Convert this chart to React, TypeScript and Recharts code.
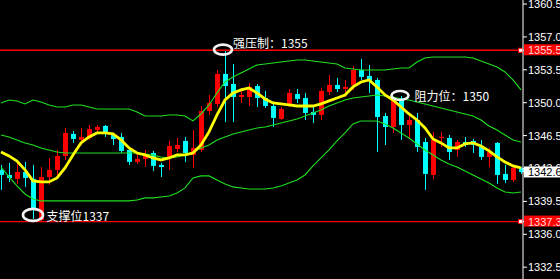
import React from 'react';
import { ComposedChart, Bar, Line, XAxis, YAxis, ReferenceLine, ReferenceDot } from 'recharts';

const opens = [
  1342.85, 1342.31, 1341.89, 1342.63, 1341.89, 1337.53, 1342.10, 1342.85, 1344.33, 1346.68,
  1346.04, 1346.25, 1347.10, 1347.53, 1346.57, 1346.36, 1344.97, 1343.70, 1344.02, 1344.65,
  1343.38, 1344.12, 1345.08, 1345.93, 1344.44, 1344.97, 1349.12, 1349.87, 1353.06, 1351.99,
  1350.61, 1350.61, 1351.78, 1350.50, 1349.65, 1348.27, 1349.87, 1350.93, 1350.50, 1349.02,
  1348.70, 1351.14, 1351.89, 1351.46, 1351.89, 1353.48, 1352.85, 1352.42, 1348.59, 1347.42,
  1350.50, 1347.63, 1348.16, 1345.82, 1342.31, 1346.25, 1346.25, 1344.97, 1345.82, 1345.93,
  1345.40, 1344.23, 1345.72, 1342.42, 1341.78, 1343.06,
];
const highs = [
  1343.38, 1343.59, 1343.59, 1343.70, 1343.38, 1343.16, 1344.12, 1344.97, 1347.31, 1346.99,
  1347.31, 1347.63, 1347.63, 1347.63, 1346.78, 1346.78, 1345.29, 1344.65, 1344.97, 1344.87,
  1343.59, 1345.93, 1346.25, 1346.36, 1347.10, 1349.65, 1350.82, 1353.48, 1355.55, 1354.12,
  1351.57, 1352.10, 1351.99, 1351.25, 1349.97, 1349.55, 1351.46, 1351.46, 1351.04, 1349.55,
  1351.57, 1352.95, 1352.63, 1352.42, 1353.91, 1354.65, 1354.02, 1352.63, 1348.91, 1350.61,
  1350.72, 1348.91, 1348.91, 1346.25, 1346.89, 1346.89, 1346.57, 1346.04, 1346.36, 1346.14,
  1346.04, 1345.19, 1345.82, 1343.38, 1343.38, 1343.16,
];
const lows = [
  1340.72, 1341.57, 1341.36, 1341.04, 1337.63, 1337.31, 1341.25, 1342.31, 1343.91, 1345.72,
  1345.50, 1346.04, 1346.89, 1346.36, 1345.50, 1344.65, 1343.38, 1343.48, 1343.16, 1342.74,
  1342.10, 1342.85, 1344.76, 1343.70, 1343.06, 1344.76, 1348.70, 1349.55, 1347.95, 1347.95,
  1349.97, 1349.65, 1349.55, 1349.44, 1347.42, 1348.16, 1349.55, 1349.97, 1348.16, 1347.85,
  1348.16, 1350.82, 1351.14, 1350.61, 1351.36, 1352.42, 1351.04, 1344.76, 1345.50, 1346.78,
  1346.04, 1346.25, 1344.76, 1340.72, 1341.89, 1345.29, 1343.91, 1344.23, 1345.29, 1344.65,
  1343.91, 1343.16, 1341.36, 1341.46, 1341.57, 1342.42,
];
const closes = [
  1342.31, 1341.99, 1342.63, 1341.99, 1338.70, 1342.10, 1342.85, 1344.33, 1346.78, 1346.14,
  1346.36, 1347.21, 1347.42, 1346.68, 1346.14, 1344.87, 1343.70, 1344.02, 1344.55, 1343.27,
  1343.16, 1345.40, 1345.50, 1344.65, 1345.19, 1349.12, 1349.97, 1353.06, 1351.78, 1350.61,
  1350.82, 1351.68, 1350.50, 1349.65, 1348.38, 1349.33, 1351.04, 1350.40, 1348.91, 1348.70,
  1351.25, 1351.89, 1351.46, 1351.68, 1353.48, 1352.74, 1352.31, 1348.48, 1347.42, 1350.50,
  1347.63, 1348.16, 1345.29, 1342.42, 1346.04, 1346.36, 1344.76, 1345.82, 1345.50, 1345.50,
  1344.23, 1344.76, 1342.31, 1341.78, 1343.06, 1342.63,
];
const movingAverage = [
  1344.76, 1344.34, 1343.80, 1342.85, 1341.68, 1341.57, 1341.57, 1341.99, 1343.06, 1344.44,
  1345.72, 1346.36, 1346.78, 1346.78, 1346.68, 1346.04, 1345.19, 1344.65, 1344.44, 1344.12,
  1343.91, 1344.12, 1344.44, 1344.44, 1344.65, 1345.50, 1346.89, 1348.70, 1350.29, 1351.04,
  1351.36, 1351.57, 1351.04, 1350.40, 1349.97, 1349.87, 1349.76, 1349.65, 1349.65, 1349.65,
  1349.87, 1350.19, 1350.50, 1350.82, 1351.68, 1352.21, 1352.42, 1351.68, 1350.82, 1350.29,
  1349.55, 1348.80, 1348.16, 1347.31, 1346.14, 1345.72, 1345.19, 1345.19, 1345.61, 1345.72,
  1345.40, 1344.87, 1344.23, 1343.70, 1343.27, 1343.06,
];
const bollUpper = [
  1349.97, 1350.29, 1350.19, 1349.87, 1350.29, 1350.08, 1349.76, 1349.55, 1349.55, 1349.76,
  1349.76, 1349.55, 1349.33, 1349.33, 1349.33, 1349.33, 1349.33, 1349.02, 1348.59, 1348.59,
  1348.59, 1348.70, 1348.70, 1348.59, 1348.06, 1348.80, 1349.76, 1351.04, 1352.21, 1352.74,
  1353.17, 1353.59, 1354.02, 1354.12, 1354.23, 1354.33, 1354.44, 1354.55, 1354.55, 1354.44,
  1354.33, 1354.23, 1354.12, 1353.70, 1353.59, 1353.48, 1353.48, 1353.48, 1353.48, 1353.59,
  1353.70, 1353.70, 1354.33, 1354.76, 1354.87, 1354.87, 1354.87, 1354.87, 1354.87, 1354.76,
  1354.44, 1354.12, 1353.80, 1353.27, 1352.42, 1351.36,
];
const bollMiddle = [
  1346.57, 1346.36, 1346.04, 1345.72, 1345.50, 1345.19, 1344.97, 1344.76, 1344.65, 1344.65,
  1344.65, 1344.65, 1344.65, 1344.65, 1344.65, 1344.65, 1344.65, 1344.65, 1344.55, 1344.44,
  1344.23, 1344.12, 1344.23, 1344.44, 1344.76, 1345.19, 1345.50, 1346.04, 1346.36, 1346.68,
  1346.89, 1347.10, 1347.31, 1347.42, 1347.63, 1347.85, 1348.06, 1348.27, 1348.59, 1348.91,
  1349.23, 1349.65, 1349.97, 1350.29, 1350.50, 1350.61, 1350.72, 1350.82, 1350.72, 1350.61,
  1350.40, 1350.29, 1350.08, 1349.87, 1349.65, 1349.44, 1349.23, 1349.02, 1348.80, 1348.59,
  1348.16, 1347.53, 1347.10, 1346.57, 1346.04, 1345.82,
];
const bollLower = [
  1343.16, 1342.10, 1341.14, 1340.29, 1339.76, 1339.55, 1339.55, 1339.55, 1339.55, 1339.55,
  1339.55, 1339.55, 1339.55, 1339.55, 1339.55, 1339.55, 1339.55, 1339.65, 1339.87, 1339.87,
  1339.97, 1340.08, 1340.40, 1340.93, 1341.99, 1342.21, 1342.21, 1341.78, 1341.36, 1341.04,
  1340.93, 1340.82, 1340.82, 1340.82, 1340.93, 1341.14, 1341.46, 1341.78, 1342.31, 1343.27,
  1344.12, 1344.97, 1345.93, 1346.78, 1347.74, 1348.06, 1348.06, 1348.06, 1347.74, 1347.31,
  1346.78, 1346.25, 1345.61, 1344.97, 1344.44, 1343.91, 1343.48, 1343.16, 1342.74, 1342.31,
  1341.89, 1341.46, 1340.93, 1340.50, 1340.40, 1340.50,
];

const yTicks = [1360.5, 1357.0, 1353.5, 1350.0, 1346.5, 1343.0, 1339.5, 1336.0, 1332.5];
const yDomain = [1331.24, 1360.93];
const resistanceLevel = 1355.58;
const supportLevel = 1337.35;
const lastPrice = 1342.63;

const annotationIndex = [28, 50, 4];
const annotationPrice = [1355.65, 1350.77, 1338.06];
const annotationText = ['强压制：1355', '阻力位：1350', '支撑位1337'];

// styling only (pixel offsets of ellipse / label relative to the anchored point)
const annotationStyle = [
  { ex: -2, rx: 9, ry: 5, tx: 8, ty: -7 },
  { ex: -1, rx: 8.5, ry: 4.5, tx: 13.5, ty: 0 },
  { ex: 0, rx: 10, ry: 6, tx: 13.5, ty: 1 },
];

const data = opens.map((o, i) => ({
  i,
  o,
  h: highs[i],
  l: lows[i],
  c: closes[i],
  hl: [lows[i], highs[i]],
  ma: movingAverage[i],
  up: bollUpper[i],
  mid: bollMiddle[i],
  low: bollLower[i],
}));

const UP = '#ff0000';
const DOWN = '#00ffff';
const GREEN = '#1ee01e';

const Candle = (props: any) => {
  const { x, y, width, height, payload } = props;
  if (x == null || y == null || !payload) return null;
  const { o, h, l, c } = payload;
  const top = Math.min(y, y + height);
  const span = Math.abs(height);
  const k = h - l > 0 ? span / (h - l) : 0;
  const cx = Math.floor(x + width / 2) + 0.5;
  const bTop = top + (h - Math.max(o, c)) * k;
  const bBot = top + (h - Math.min(o, c)) * k;
  const color = c >= o ? UP : DOWN;
  return (
    <g>
      <line x1={cx} x2={cx} y1={top} y2={top + span} stroke={color} strokeWidth={1} />
      <rect x={cx - 2.5} y={bTop} width={5} height={Math.max(1, bBot - bTop)} fill={color} />
    </g>
  );
};

const AxisTick = (props: any) => {
  const { x, y, payload } = props;
  const v = payload.value as number;
  const label = v.toFixed(2);
  const font = { fontFamily: '"Liberation Sans", Arial, sans-serif', fontSize: 11 };
  if (v === resistanceLevel || v === supportLevel) {
    return (
      <g>
        <rect x={x - 4} y={y - 6} width={45} height={11} fill="#ff0000" />
        <text x={x} y={y} dy="0.36em" fill="#ffd8d8" {...font}>{label}</text>
      </g>
    );
  }
  if (v === lastPrice) {
    return (
      <g>
        <rect x={x - 4} y={y - 5.5} width={45} height={11} fill="#ffffff" />
        <text x={x} y={y} dy="0.36em" fill="#000000" {...font}>{label}</text>
      </g>
    );
  }
  return (
    <text x={x} y={y} dy="0.36em" fill="#ffffff" {...font}>{label}</text>
  );
};

const LineEndMarker = (props: any) => {
  const vb = props.viewBox || {};
  const ex = (vb.x ?? 0) + (vb.width ?? 0);
  const ey = vb.y ?? 0;
  return <rect x={ex - 4.5} y={ey - 2} width={4} height={4} fill="#ffffff" stroke="#ff0000" strokeWidth={1} />;
};

const makeAnnotationShape = (n: number) => (props: any) => {
  const { cx, cy } = props;
  if (cx == null || cy == null) return null;
  const s = annotationStyle[n];
  return (
    <g>
      <ellipse cx={cx + s.ex} cy={cy} rx={s.rx} ry={s.ry} fill="none" stroke="#f4f4f4" strokeWidth={2.6} />
      <text
        x={cx + s.tx}
        y={cy + s.ty}
        dominantBaseline="central"
        fill="#ffffff"
        fontSize={12}
        fontFamily='"Noto Sans CJK SC", sans-serif'
      >
        {annotationText[n]}
      </text>
    </g>
  );
};

export default function App() {
  return (
    <div style={{ position: 'absolute', left: 0, top: 0, width: 560, height: 279, background: '#000000' }}>
      <ComposedChart
        width={560}
        height={279}
        data={data}
        margin={{ top: 0, right: 0, bottom: 0, left: -3 }}
        barCategoryGap={0}
      >
        <XAxis dataKey="i" hide padding={{ left: 0, right: -2 }} />
        <YAxis
          orientation="right"
          type="number"
          width={37}
          domain={yDomain}
          allowDataOverflow
          ticks={[...yTicks, resistanceLevel, supportLevel, lastPrice]}
          interval={0}
          axisLine={{ stroke: '#ffffff', strokeWidth: 1 }}
          tickLine={{ stroke: '#ffffff' }}
          tickSize={4}
          tickMargin={1}
          tick={<AxisTick />}
        />
        <ReferenceLine y={resistanceLevel} stroke="#ff0000" strokeWidth={1.3} label={<LineEndMarker />} />
        <ReferenceLine y={supportLevel} stroke="#ff0000" strokeWidth={1.3} label={<LineEndMarker />} />
        <Bar dataKey="hl" barSize={5} shape={<Candle />} isAnimationActive={false} />
        <Line dataKey="up" stroke={GREEN} strokeWidth={1.1} dot={false} activeDot={false} isAnimationActive={false} />
        <Line dataKey="mid" stroke={GREEN} strokeWidth={1.1} dot={false} activeDot={false} isAnimationActive={false} />
        <Line dataKey="low" stroke={GREEN} strokeWidth={1.1} dot={false} activeDot={false} isAnimationActive={false} />
        <Line dataKey="ma" stroke="#ffff00" strokeWidth={2.8} dot={false} activeDot={false} isAnimationActive={false} />
        {annotationIndex.map((idx, n) => (
          <ReferenceDot
            key={n}
            x={idx}
            y={annotationPrice[n]}
            r={1}
            shape={makeAnnotationShape(n)}
          />
        ))}
      </ComposedChart>
    </div>
  );
}
